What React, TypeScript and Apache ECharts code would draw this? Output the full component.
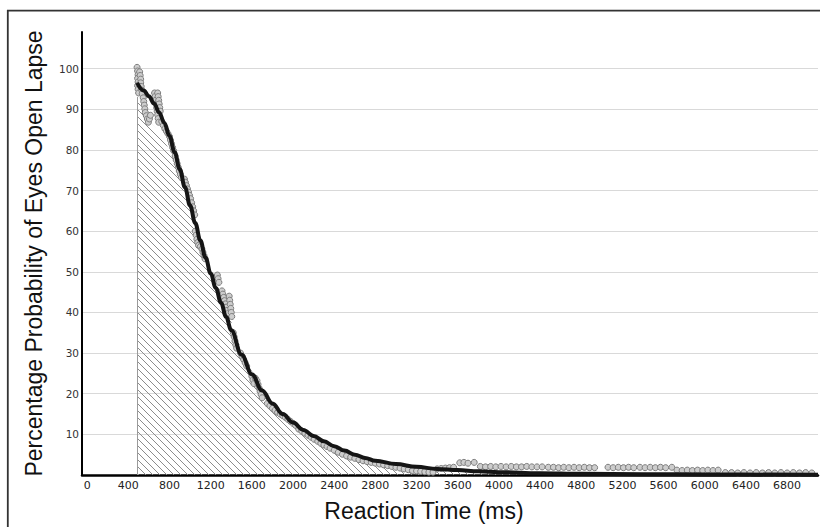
import React, { useEffect, useRef } from 'react';
import * as echarts from 'echarts';

// Tick labels
const xTicks = [0, 400, 800, 1200, 1600, 2000, 2400, 2800, 3200, 3600, 4000, 4400, 4800, 5200, 5600, 6000, 6400, 6800];
const yTicks = [10, 20, 30, 40, 50, 60, 70, 80, 90, 100];

// Fitted probability curve (ms, %)
const fitCurve: [number, number][] = [
  [485, 96.5], [550, 94.6], [600, 93.2], [650, 91.4], [700, 89.2], [750, 86.6], [800, 83.4], [850, 79.4],
  [900, 75.2], [950, 70.8], [1000, 66.3], [1050, 62.0], [1100, 57.7], [1150, 53.5], [1200, 49.6],
  [1250, 46.0], [1300, 42.4], [1350, 38.9], [1400, 35.6], [1500, 29.6], [1600, 24.8], [1700, 20.8],
  [1800, 17.6], [1900, 15.0], [2000, 12.9], [2100, 11.1], [2200, 9.6], [2300, 8.3], [2400, 7.1],
  [2500, 6.0], [2600, 5.0], [2700, 4.2], [2800, 3.5], [3000, 2.7], [3200, 2.0], [3400, 1.5], [3600, 1.2],
  [3800, 0.9], [4000, 0.7], [4400, 0.45], [4800, 0.3], [5400, 0.2], [6000, 0.12], [7100, 0.05],
];

// Hatched region edge (ms, %)
const hatchEdge: [number, number][] = [
  [485, 93], [580, 87.8], [690, 84.5], [820, 78.8], [950, 69.5], [1065, 59.8], [1195, 51], [1355, 41],
  [1515, 29.8], [1680, 22.5], [1905, 15.5], [2130, 10.8], [2390, 7], [2600, 4.8], [2850, 3], [3100, 2],
  [3350, 1.3], [3650, 0.8], [4000, 0.4], [4500, 0.2],
];

// Observed points (ms, %)
const pointsHead: [number, number][] = [
  [485, 100.3], [490, 99.4], [495, 98.5], [490, 97.6], [495, 96.7], [490, 95.8], [495, 94.9], [500, 94.0],
  [510, 99.2], [515, 98.3], [520, 97.4], [520, 96.5], [525, 95.6], [530, 94.7], [535, 93.8],
  [545, 92.8], [550, 91.9], [555, 91.0], [560, 90.1], [565, 89.2], [575, 88.4], [585, 87.6], [595, 86.8],
  [605, 87.6], [615, 88.5],
  [655, 94.0], [660, 93.1], [665, 92.2], [670, 91.3], [675, 90.4], [680, 89.5], [685, 88.6], [690, 87.7], [695, 86.8],
  [685, 94.0], [690, 93.1], [695, 92.2], [700, 91.3], [705, 90.4], [710, 89.5],
  [725, 87.0], [740, 86.0], [755, 85.2], [770, 84.6], [785, 84.0], [800, 83.3], [810, 82.4], [820, 81.5],
  [830, 80.6], [840, 79.8],
];
const pointsUpper: [number, number][] = [
  [855, 78.5], [865, 77.5], [875, 76.6], [885, 75.7], [895, 74.8], [905, 74.0], [915, 73.2],
  [945, 72.8], [955, 72.0], [965, 71.2], [975, 70.4], [985, 69.6], [995, 68.8], [1005, 68.0], [1015, 67.0],
  [1025, 66.0], [1035, 65.0], [1045, 64.0],
  [1050, 60.0], [1058, 59.0], [1066, 58.0], [1074, 57.2], [1082, 56.5], [1100, 56.2], [1115, 55.6],
  [1125, 54.8], [1135, 54.0], [1145, 53.2],
  [1265, 49.2], [1272, 48.3], [1280, 47.4],
  [1310, 45.3], [1318, 44.5], [1326, 43.7], [1334, 42.9], [1342, 42.1], [1350, 41.3], [1358, 40.5], [1366, 39.7],
  [1380, 44.0], [1385, 43.0], [1390, 42.0], [1395, 41.0], [1400, 40.0], [1405, 39.0],
  [1420, 35.0], [1428, 34.0], [1436, 33.0], [1444, 32.0], [1452, 31.2],
];
const pointsMid: [number, number][] = [
  [1490, 30.0], [1505, 29.2], [1520, 28.4], [1535, 27.6], [1550, 26.8],
  [1600, 24.3], [1610, 23.4], [1620, 22.5], [1635, 23.8], [1650, 23.2], [1660, 22.3], [1670, 21.4],
  [1680, 20.6], [1690, 19.8], [1700, 19.0],
  [1750, 17.6], [1775, 17.0], [1800, 16.4], [1825, 15.9], [1850, 15.4], [1875, 15.0], [1900, 14.6],
  [1925, 14.2], [1950, 13.7], [1975, 13.2], [2000, 12.7], [2025, 12.2],
  [2055, 11.3], [2085, 10.8], [2115, 10.3], [2145, 9.8], [2175, 9.3], [2205, 8.8],
  [2240, 8.3], [2270, 7.8], [2300, 7.4], [2330, 7.0], [2360, 6.6], [2400, 6.1], [2440, 5.6], [2480, 5.1],
  [2520, 4.7], [2560, 4.4], [2600, 4.1], [2640, 3.8], [2680, 3.5],
];
const pointsLow: [number, number][] = [
  [2720, 3.3], [2760, 3.1], [2800, 2.9], [2840, 2.7], [2880, 2.5], [2920, 2.3], [2960, 2.1], [3000, 1.9],
  [3040, 1.7], [3080, 1.5], [3120, 1.3], [3160, 1.1], [3200, 1.0], [3240, 0.9], [3280, 0.8], [3320, 0.7],
  [3360, 0.7], [3400, 1.5], [3440, 1.6], [3480, 1.7], [3520, 1.8], [3560, 1.9],
  [3620, 3.0], [3660, 3.1], [3700, 2.9], [3760, 3.1],
];
const pointsTail: [number, number][] = [
  [3820, 2.1], [3870, 2.0], [3920, 2.1], [3970, 2.0], [4020, 2.1], [4070, 2.0], [4120, 2.1], [4170, 2.0],
  [4220, 2.0], [4270, 2.1], [4320, 2.0], [4370, 2.0], [4420, 2.0],
  [4480, 1.9], [4530, 1.9], [4580, 1.8], [4630, 1.9], [4680, 1.8], [4730, 1.9], [4780, 1.8], [4830, 1.9],
  [4880, 1.8], [4930, 1.8],
  [5060, 1.9], [5110, 1.8], [5160, 1.9], [5210, 1.8], [5260, 1.9], [5310, 1.8],
  [5370, 1.9], [5420, 1.8], [5470, 1.9], [5520, 1.8], [5570, 1.9], [5620, 1.8], [5680, 1.9],
  [5730, 1.2], [5780, 1.1], [5830, 1.2], [5880, 1.1], [5930, 1.2], [5980, 1.1], [6030, 1.2], [6080, 1.1], [6130, 1.2],
  [6200, 0.6], [6260, 0.6], [6320, 0.5], [6380, 0.6], [6440, 0.5], [6500, 0.6], [6560, 0.5], [6620, 0.6],
  [6680, 0.5], [6740, 0.6], [6800, 0.5], [6860, 0.6], [6920, 0.5], [6980, 0.6], [7040, 0.5],
];

export default function App() {
  const ref = useRef<HTMLDivElement>(null);

  useEffect(() => {
    document.documentElement.style.overflow = 'hidden';
    const el = ref.current;
    if (!el) return;
    const chart = echarts.init(el, null, { renderer: 'svg' });

    const s = 7;
    const tile = document.createElement('canvas');
    tile.width = s;
    tile.height = s;
    const g = tile.getContext('2d');
    if (g) {
      g.strokeStyle = '#8c8c8c';
      g.lineWidth = 1;
      g.beginPath();
      g.moveTo(0, 0);
      g.lineTo(s, s);
      g.moveTo(-1, s - 1);
      g.lineTo(1, s + 1);
      g.moveTo(s - 1, -1);
      g.lineTo(s + 1, 1);
      g.stroke();
    }

    const observed = [...pointsHead, ...pointsUpper, ...pointsMid, ...pointsLow, ...pointsTail];

    chart.setOption({
      animation: false,
      backgroundColor: '#ffffff',
      grid: { left: 82, top: 32, right: 2, bottom: 47.5, containLabel: false },
      graphic: [
        {
          type: 'rect',
          silent: true,
          z: 100,
          shape: { x: 7.8, y: 10.6, width: 900, height: 600 },
          style: { fill: 'none', stroke: '#333333', lineWidth: 1.8 },
        },
      ],
      xAxis: {
        type: 'value',
        min: -50,
        max: 7100,
        name: 'Reaction Time (ms)',
        nameLocation: 'middle',
        nameGap: 24,
        nameTextStyle: {
          fontFamily: 'Liberation Sans',
          fontSize: 23,
          color: '#111',
          padding: [0, 52, 0, 0],
        },
        axisLine: { show: true, onZero: false, lineStyle: { color: '#000', width: 2.5 } },
        axisTick: { show: false, customValues: xTicks },
        splitLine: { show: false },
        axisLabel: {
          customValues: xTicks,
          margin: 5,
          fontFamily: 'DejaVu Sans',
          fontSize: 11,
          color: '#222',
          formatter: (v: number) => String(v),
        },
      },
      yAxis: {
        type: 'value',
        min: 0,
        max: 109,
        name: 'Percentage Probability of Eyes Open Lapse',
        nameLocation: 'middle',
        nameGap: 37,
        nameTextStyle: { fontFamily: 'Liberation Sans', fontSize: 23, color: '#111' },
        axisLine: { show: true, onZero: false, lineStyle: { color: '#000', width: 2 } },
        axisTick: { show: false, customValues: yTicks },
        splitLine: { show: true, lineStyle: { color: '#d9d9d9', width: 1 } },
        axisLabel: {
          customValues: yTicks,
          margin: 3,
          fontFamily: 'DejaVu Sans',
          fontSize: 10.5,
          color: '#333',
          formatter: (v: number) => String(v),
        },
      },
      series: [
        {
          name: 'hatch',
          type: 'line',
          data: hatchEdge,
          smooth: 0.3,
          showSymbol: false,
          silent: true,
          z: 1,
          lineStyle: { width: 0, opacity: 0 },
          areaStyle: { color: { image: tile, repeat: 'repeat' }, opacity: 1 },
          markLine: {
            silent: true,
            symbol: ['none', 'none'],
            label: { show: false },
            lineStyle: { color: '#9a9a9a', width: 1, type: 'solid' },
            data: [[{ coord: [hatchEdge[0][0], 0] }, { coord: [hatchEdge[0][0], hatchEdge[0][1]] }]],
          },
        },
        {
          name: 'observed',
          type: 'scatter',
          data: observed,
          symbol: 'circle',
          symbolSize: 6,
          z: 2,
          itemStyle: { color: '#cdcdcd', borderColor: '#7d7d7d', borderWidth: 1, opacity: 1 },
        },
        {
          name: 'fit',
          type: 'line',
          data: fitCurve,
          smooth: 0.4,
          smoothMonotone: 'x',
          showSymbol: false,
          z: 3,
          lineStyle: { color: '#151515', width: 4 },
        },
      ],
    });

    return () => chart.dispose();
  }, []);

  return (
    <div
      ref={ref}
      style={{ position: 'fixed', left: 0, top: 0, width: 820, height: 527, background: '#fff' }}
    />
  );
}
